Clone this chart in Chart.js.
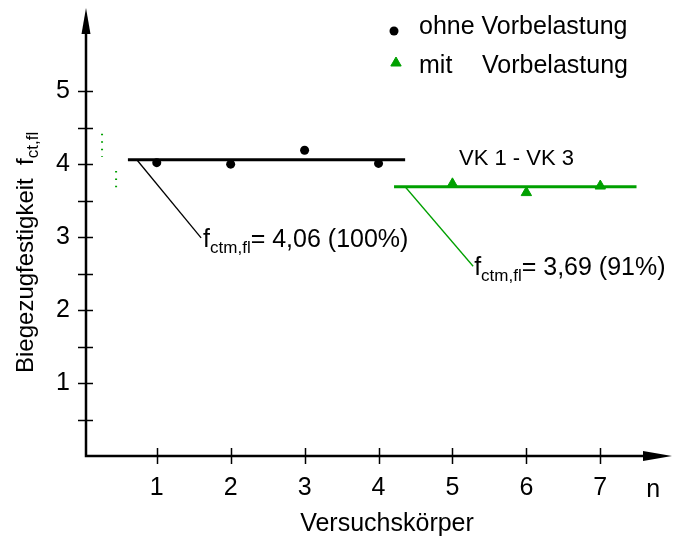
<!DOCTYPE html>
<html>
<head>
<meta charset="utf-8">
<script src="https://cdn.jsdelivr.net/npm/chart.js@4.4.0/dist/chart.umd.min.js"></script>
<style>
  html, body { margin: 0; padding: 0; background: #fff; }
</style>
</head>
<body>
<canvas id="chart" width="673" height="540"></canvas>
<script>
// specimens without / with preloading
const nOhne = [1, 2, 3, 4];
const fOhne = [4.02, 4.00, 4.19, 4.01];
const nMit = [5, 6, 7];
const fMit = [3.73, 3.61, 3.70];

// mean values and where their lines run along n
const meanOhne = 4.06;
const meanMit = 3.69;
const spanOhne = [0.61, 4.36];
const spanMit = [4.21, 7.49];

// leader lines from the mean lines to the labels, [n, f]
const leaderOhne = [[0.73, 4.06], [1.60, 2.99]];
const leaderMit = [[4.36, 3.69], [5.28, 2.60]];

// dotted ranges beside the y axis, [n, fTop, fBottom]
const rangeA = [0.26, 4.415, 4.10];
const rangeB = [0.45, 3.905, 3.61];

const xTicks = [1, 2, 3, 4, 5, 6, 7];
const yTicks = [1, 2, 3, 4, 5];
const yMinor = [0.5, 1.5, 2.5, 3.5, 4.5];

const GREEN = '#00a000';
const FONT = '"Liberation Sans", Arial, sans-serif';

function pts(xs, ys) { return xs.map((x, i) => ({ x: x, y: ys[i] })); }

// draw text made of normal and subscript parts
function richText(ctx, x, y, parts) {
  parts.forEach(p => {
    ctx.font = p.size + 'px ' + FONT;
    ctx.fillText(p.t, x, y + (p.dy || 0));
    x += ctx.measureText(p.t).width;
  });
}

const decor = {
  id: 'decor',
  beforeDatasetsDraw(chart) {
    const ctx = chart.ctx;
    const a = chart.chartArea;
    const xs = chart.scales.x, ys = chart.scales.y;
    ctx.save();
    ctx.strokeStyle = '#000';
    ctx.fillStyle = '#000';
    ctx.lineWidth = 2.5;
    // axes
    ctx.beginPath();
    ctx.moveTo(a.left, a.top + 20);
    ctx.lineTo(a.left, a.bottom);
    ctx.lineTo(a.right - 24, a.bottom);
    ctx.stroke();
    // arrow heads
    ctx.beginPath();
    ctx.moveTo(a.left, a.top);
    ctx.lineTo(a.left - 4.5, a.top + 26);
    ctx.lineTo(a.left + 4.5, a.top + 26);
    ctx.closePath();
    ctx.fill();
    ctx.beginPath();
    ctx.moveTo(a.right, a.bottom);
    ctx.lineTo(a.right - 29, a.bottom - 5);
    ctx.lineTo(a.right - 29, a.bottom + 5);
    ctx.closePath();
    ctx.fill();
    // tick marks across the axes
    ctx.lineWidth = 1.5;
    ctx.beginPath();
    yTicks.concat(yMinor).forEach(v => {
      const py = Math.round(ys.getPixelForValue(v)) + 0.5;
      ctx.moveTo(a.left - 8, py);
      ctx.lineTo(a.left + 7, py);
    });
    xTicks.forEach(v => {
      const px = Math.round(xs.getPixelForValue(v)) + 0.5;
      ctx.moveTo(px, a.bottom - 8);
      ctx.lineTo(px, a.bottom + 8);
    });
    ctx.stroke();
    ctx.restore();
  },
  afterDraw(chart) {
    const ctx = chart.ctx;
    const a = chart.chartArea;
    const xs = chart.scales.x, ys = chart.scales.y;
    ctx.save();
    ctx.fillStyle = '#000';
    ctx.textBaseline = 'alphabetic';
    ctx.textAlign = 'left';

    // axis titles
    ctx.font = '25px ' + FONT;
    ctx.textAlign = 'center';
    ctx.fillText('Versuchskörper', (a.left + a.right) / 2 + 8, 531);
    ctx.textAlign = 'left';
    ctx.fillText('n', xs.getPixelForValue(7.62), 497);

    ctx.save();
    ctx.translate(33, 373);
    ctx.rotate(-Math.PI / 2);
    richText(ctx, 0, 0, [
      { t: 'Biegezugfestigkeit  f', size: 24 },
      { t: 'ct,fl', size: 17, dy: 5 }
    ]);
    ctx.restore();

    // annotations
    const e1 = leaderOhne[1], e2 = leaderMit[1];
    richText(ctx, xs.getPixelForValue(e1[0]) + 2, ys.getPixelForValue(e1[1]) + 9, [
      { t: 'f', size: 25 },
      { t: 'ctm,fl', size: 17, dy: 6.5 },
      { t: '= ' + meanOhne.toFixed(2).replace('.', ',') + ' (100%)', size: 25 }
    ]);
    const pct = Math.round(meanMit / meanOhne * 100);
    richText(ctx, xs.getPixelForValue(e2[0]) + 1, ys.getPixelForValue(e2[1]) + 8.5, [
      { t: 'f', size: 25 },
      { t: 'ctm,fl', size: 17, dy: 6.5 },
      { t: '= ' + meanMit.toFixed(2).replace('.', ',') + ' (' + pct + '%)', size: 25 }
    ]);
    ctx.font = '22px ' + FONT;
    ctx.fillText('VK 1 - VK 3', 459, 165);

    // legend
    ctx.font = '25px ' + FONT;
    Chart.helpers.drawPoint(ctx, { pointStyle: 'circle', radius: 4.5, borderWidth: 0 }, 394, 31);
    ctx.fillText('ohne Vorbelastung', 419, 34);
    ctx.fillStyle = GREEN;
    ctx.strokeStyle = GREEN;
    Chart.helpers.drawPoint(ctx, { pointStyle: 'triangle', radius: 6, borderWidth: 1 }, 396, 63);
    ctx.fillStyle = '#000';
    ctx.fillText('mit', 419, 73);
    ctx.fillText('Vorbelastung', 482, 73);
    ctx.restore();
  }
};

const lineDs = (data, color, width, dash) => ({
  data: data,
  showLine: true,
  borderColor: color,
  borderWidth: width,
  borderDash: dash || [],
  pointRadius: 0,
  pointHoverRadius: 0,
  fill: false
});

new Chart(document.getElementById('chart').getContext('2d'), {
  type: 'scatter',
  data: {
    datasets: [
      {
        label: 'ohne Vorbelastung',
        data: pts(nOhne, fOhne),
        pointStyle: 'circle',
        pointRadius: 4.5,
        backgroundColor: '#000',
        borderColor: '#000',
        borderWidth: 0
      },
      {
        label: 'mit Vorbelastung',
        data: pts(nMit, fMit),
        pointStyle: 'triangle',
        pointRadius: 6,
        backgroundColor: GREEN,
        borderColor: GREEN,
        borderWidth: 1
      },
      lineDs(spanOhne.map(x => ({ x: x, y: meanOhne })), '#000', 3),
      lineDs(spanMit.map(x => ({ x: x, y: meanMit })), GREEN, 3),
      lineDs(leaderOhne.map(p => ({ x: p[0], y: p[1] })), '#000', 1.3),
      lineDs(leaderMit.map(p => ({ x: p[0], y: p[1] })), GREEN, 1.3),
      lineDs([{ x: rangeA[0], y: rangeA[1] }, { x: rangeA[0], y: rangeA[2] }], GREEN, 2, [1.5, 5.9]),
      lineDs([{ x: rangeB[0], y: rangeB[1] }, { x: rangeB[0], y: rangeB[2] }], GREEN, 2, [1.5, 5.9])
    ]
  },
  options: {
    responsive: false,
    animation: false,
    layout: { autoPadding: false, padding: { top: 8, right: 1, left: 0, bottom: 0 } },
    plugins: { legend: { display: false }, tooltip: { enabled: false } },
    scales: {
      x: {
        type: 'linear',
        min: 0.043,
        max: 7.97,
        afterBuildTicks: s => { s.ticks = xTicks.map(v => ({ value: v })); },
        afterFit: s => { s.height = 84; s.paddingLeft = 0; s.paddingRight = 0; },
        grid: { display: false, drawTicks: false },
        border: { display: false },
        ticks: { color: '#000', font: { family: FONT, size: 25 }, padding: 17 }
      },
      y: {
        type: 'linear',
        min: 0,
        max: 6.14,
        afterBuildTicks: s => { s.ticks = yTicks.map(v => ({ value: v })); },
        afterFit: s => { s.width = 86; s.paddingTop = 0; s.paddingBottom = 0; },
        grid: { display: false, drawTicks: false },
        border: { display: false },
        ticks: { color: '#000', font: { family: FONT, size: 25 }, padding: 16 }
      }
    }
  },
  plugins: [decor]
});
</script>
</body>
</html>
